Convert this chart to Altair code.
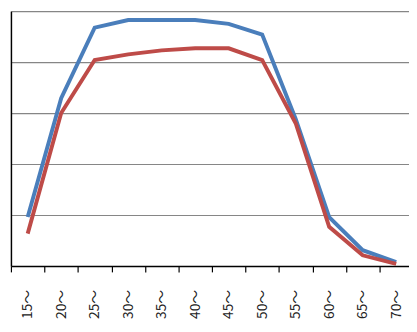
import altair as alt
import pandas as pd

categories = ["15～", "20～", "25～", "30～", "35～", "40～", "45～", "50～", "55～", "60～", "65～", "70～"]
series_a = [19.2, 65.8, 93.5, 96.5, 96.5, 96.5, 95.0, 90.8, 57.7, 19.2, 6.2, 1.5]
series_b = [12.7, 60.0, 80.8, 83.0, 84.6, 85.4, 85.4, 80.8, 56.0, 15.4, 4.2, 0.8]
series_names = ["A", "B"]
colors = ["#4A7EBB", "#BE4B48"]

rows = []
for name, vals in zip(series_names, [series_a, series_b]):
    for c, v in zip(categories, vals):
        rows.append({"cat": c, "value": v, "series": name})
df = pd.DataFrame(rows)

chart = alt.Chart(df).mark_line(strokeWidth=4).encode(
    x=alt.X("cat:N", sort=categories, title=None,
            scale=alt.Scale(type="band", paddingInner=0, paddingOuter=0, range=[0, 410]),
            axis=alt.Axis(labelAngle=-90, tickBand="extent", grid=False,
                          domainColor="#000000", domainWidth=1.5,
                          tickColor="#000000", tickSize=6, tickWidth=1.2,
                          labelFont="Noto Sans CJK JP", labelFontSize=14,
                          labelColor="#222222", labelPadding=18)),
    y=alt.Y("value:Q", title=None,
            scale=alt.Scale(domain=[0, 100]),
            axis=alt.Axis(values=[0, 20, 40, 60, 80, 100], labels=False, ticks=False,
                          domainColor="#000000", domainWidth=1.5,
                          gridColor="#868686", gridWidth=1.2, gridOpacity=1)),
    color=alt.Color("series:N", scale=alt.Scale(domain=series_names, range=colors), legend=None),
    order=alt.Order("series:N", sort="descending"),
).properties(
    width=406, height=260,
    autosize=alt.AutoSizeParams(type="none"),
    padding={"left": 3, "top": 0, "right": 0, "bottom": 56},
).configure_view(stroke=None)

chart.save("out.html", embed_options={"renderer": "svg", "actions": False})
